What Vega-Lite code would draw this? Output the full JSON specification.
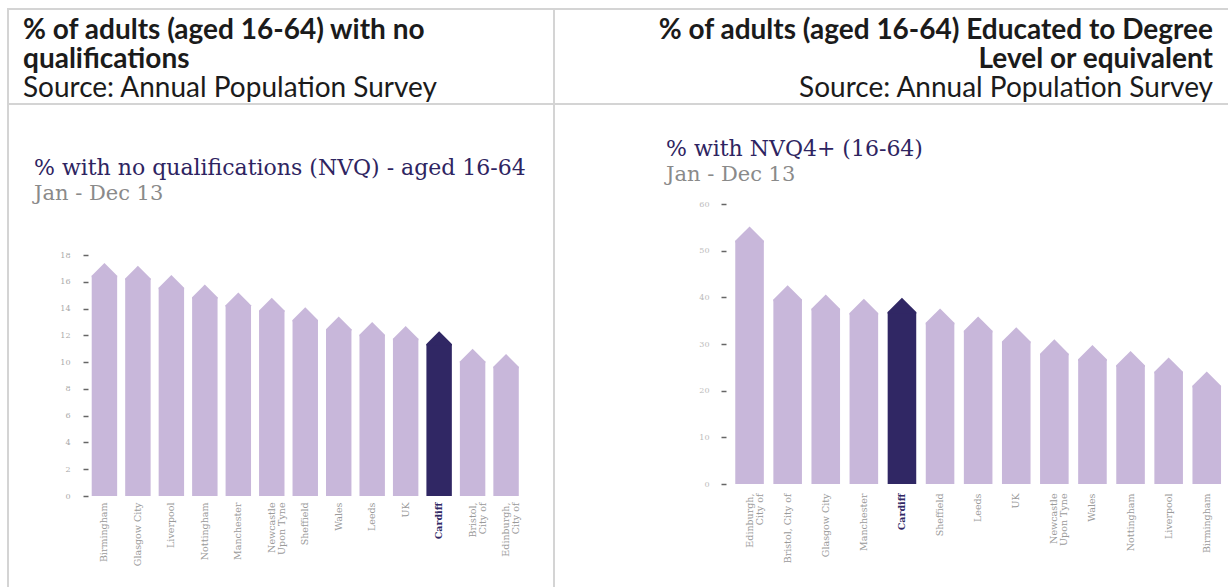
{
  "$schema": "https://vega.github.io/schema/vega-lite/v6.json",
  "padding": {"left": 7, "top": 8, "right": 0, "bottom": 0},
  "background": "white",
  "spacing": 0,
  "bounds": "flush",
  "columns": 2,
  "config": {
    "view": {"stroke": "#d4d4d4", "strokeWidth": 2},
    "axis": {"grid": false, "title": null},
    "font": "DejaVu Serif"
  },
  "datasets": {
    "noqual": [
      {"area": "Birmingham", "value": 17.4},
      {"area": "Glasgow City", "value": 17.2},
      {"area": "Liverpool", "value": 16.5},
      {"area": "Nottingham", "value": 15.8},
      {"area": "Manchester", "value": 15.2},
      {"area": "Newcastle Upon Tyne", "value": 14.8},
      {"area": "Sheffield", "value": 14.1},
      {"area": "Wales", "value": 13.4},
      {"area": "Leeds", "value": 13.0},
      {"area": "UK", "value": 12.7},
      {"area": "Cardiff", "value": 12.3},
      {"area": "Bristol, City of", "value": 11.0},
      {"area": "Edinburgh, City of", "value": 10.6}
    ],
    "nvq4": [
      {"area": "Edinburgh, City of", "value": 55.2},
      {"area": "Bristol, City of", "value": 42.6},
      {"area": "Glasgow City", "value": 40.6},
      {"area": "Manchester", "value": 39.7},
      {"area": "Cardiff", "value": 39.9},
      {"area": "Sheffield", "value": 37.6},
      {"area": "Leeds", "value": 35.9},
      {"area": "UK", "value": 33.6},
      {"area": "Newcastle Upon Tyne", "value": 31.0},
      {"area": "Wales", "value": 29.8},
      {"area": "Nottingham", "value": 28.5},
      {"area": "Liverpool", "value": 27.1},
      {"area": "Birmingham", "value": 24.1}
    ]
  },
  "concat": [
    {
      "width": 546,
      "height": 95,
      "view": {"stroke": "#d4d4d4", "strokeWidth": 2, "fill": "white"},
      "data": {"values": [{"t": ""}]},
      "mark": {"type": "text"},
      "encoding": {"text": {"field": "t"}},
      "title": {
        "text": ["% of adults (aged 16-64) with no", "qualifications"],
        "subtitle": "Source: Annual Population Survey",
        "frame": "group",
        "anchor": "start",
        "dx": 15,
        "offset": -94,
        "font": "Lato",
        "fontSize": 28,
        "fontWeight": "bold",
        "color": "#1b1b1b",
        "lineHeight": 29,
        "subtitleFont": "Lato",
        "subtitleFontSize": 28,
        "subtitleFontWeight": "normal",
        "subtitleColor": "#1b1b1b",
        "subtitleLineHeight": 29,
        "subtitlePadding": 1
      }
    },
    {
      "width": 675,
      "height": 95,
      "view": {"stroke": "#d4d4d4", "strokeWidth": 2, "fill": "white"},
      "data": {"values": [{"t": ""}]},
      "mark": {"type": "text"},
      "encoding": {"text": {"field": "t"}},
      "title": {
        "text": ["% of adults (aged 16-64) Educated to Degree", "Level or equivalent"],
        "subtitle": "Source: Annual Population Survey",
        "frame": "group",
        "anchor": "end",
        "dx": -16,
        "offset": -94,
        "font": "Lato",
        "fontSize": 28,
        "fontWeight": "bold",
        "color": "#1b1b1b",
        "lineHeight": 29,
        "subtitleFont": "Lato",
        "subtitleFontSize": 28,
        "subtitleFontWeight": "normal",
        "subtitleColor": "#1b1b1b",
        "subtitleLineHeight": 29,
        "subtitlePadding": 1
      }
    },
    {
      "width": 546,
      "height": 484,
      "data": {"name": "noqual"},
      "title": {
        "text": "% with no qualifications (NVQ) - aged 16-64",
        "subtitle": "Jan - Dec 13",
        "frame": "group",
        "anchor": "start",
        "dx": 26,
        "offset": -101,
        "font": "DejaVu Serif",
        "fontSize": 22,
        "fontWeight": "normal",
        "color": "#2e2461",
        "subtitleFont": "DejaVu Serif",
        "subtitleFontSize": 21,
        "subtitleColor": "#8a8a8a",
        "subtitlePadding": 3
      },
      "encoding": {
        "x": {
          "field": "area",
          "type": "nominal",
          "sort": null,
          "scale": {"range": [79.7, 514.8], "paddingInner": 0.24, "paddingOuter": 0.12},
          "axis": {
            "orient": "bottom",
            "offset": -92,
            "labelAngle": -90,
            "domain": false,
            "ticks": false,
            "tickSize": 0,
            "labelPadding": 6,
            "labelLimit": 300,
            "labelFont": "DejaVu Serif",
            "labelFontSize": 9.5,
            "labelLineHeight": 10,
            "labelOverlap": false,
            "labelColor": {"condition": {"test": "datum.value === 'Cardiff'", "value": "#302764"}, "value": "#9a9a9a"},
            "labelFontWeight": {"condition": {"test": "datum.value === 'Cardiff'", "value": "bold"}, "value": "normal"},
            "labelExpr": "datum.label == 'Newcastle Upon Tyne' ? ['Newcastle', 'Upon Tyne'] : datum.label == 'Bristol, City of' ? ['Bristol,', 'City of'] : datum.label == 'Edinburgh, City of' ? ['Edinburgh,', 'City of'] : datum.label"
          }
        },
        "y": {
          "field": "value",
          "type": "quantitative",
          "stack": null,
          "scale": {"domain": [0, 18], "range": [392, 151], "nice": false},
          "axis": {
            "orient": "left",
            "offset": -80,
            "values": [0, 2, 4, 6, 8, 10, 12, 14, 16, 18],
            "domain": false,
            "ticks": true,
            "tickSize": 5,
            "tickColor": "#666666",
            "tickWidth": 1.5,
            "labelPadding": 13,
            "labelFont": "DejaVu Serif",
            "labelFontSize": 8,
            "labelColor": "#aaaaaa"
          }
        },
        "color": {"condition": {"test": "datum.area === 'Cardiff'", "value": "#302764"}, "value": "#c8b7da"}
      },
      "layer": [
        {"mark": {"type": "bar", "yOffset": 12.7, "y2Offset": 0}, "encoding": {"y2": {"datum": 0}}},
        {"mark": {"type": "point", "shape": "M-1,1.12L-1,1L0,0L1,1L1,1.12Z", "size": 647, "filled": true, "opacity": 1, "strokeWidth": 0}}
      ]
    },
    {
      "width": 675,
      "height": 484,
      "data": {"name": "nvq4"},
      "title": {
        "text": "% with NVQ4+  (16-64)",
        "subtitle": "Jan - Dec 13",
        "frame": "group",
        "anchor": "start",
        "dx": 112,
        "offset": -82,
        "font": "DejaVu Serif",
        "fontSize": 22,
        "fontWeight": "normal",
        "color": "#2e2461",
        "subtitleFont": "DejaVu Serif",
        "subtitleFontSize": 21,
        "subtitleColor": "#8a8a8a",
        "subtitlePadding": 3
      },
      "encoding": {
        "x": {
          "field": "area",
          "type": "nominal",
          "sort": null,
          "scale": {"range": [176.5, 671.8], "paddingInner": 0.25, "paddingOuter": 0.125},
          "axis": {
            "orient": "bottom",
            "offset": -104,
            "labelAngle": -90,
            "domain": false,
            "ticks": false,
            "tickSize": 0,
            "labelPadding": 9,
            "labelLimit": 300,
            "labelFont": "DejaVu Serif",
            "labelFontSize": 9.5,
            "labelLineHeight": 10,
            "labelOverlap": false,
            "labelColor": {"condition": {"test": "datum.value === 'Cardiff'", "value": "#302764"}, "value": "#9a9a9a"},
            "labelFontWeight": {"condition": {"test": "datum.value === 'Cardiff'", "value": "bold"}, "value": "normal"},
            "labelExpr": "datum.label == 'Newcastle Upon Tyne' ? ['Newcastle', 'Upon Tyne'] : datum.label == 'Edinburgh, City of' ? ['Edinburgh,', 'City of'] : datum.label"
          }
        },
        "y": {
          "field": "value",
          "type": "quantitative",
          "stack": null,
          "scale": {"domain": [0, 60], "range": [380, 100], "nice": false},
          "axis": {
            "orient": "left",
            "offset": -172,
            "values": [0, 10, 20, 30, 40, 50, 60],
            "domain": false,
            "ticks": true,
            "tickSize": 5,
            "tickColor": "#666666",
            "tickWidth": 1.5,
            "labelPadding": 12,
            "labelFont": "DejaVu Serif",
            "labelFontSize": 8,
            "labelColor": "#bbbbbb"
          }
        },
        "color": {"condition": {"test": "datum.area === 'Cardiff'", "value": "#302764"}, "value": "#c8b7da"}
      },
      "layer": [
        {"mark": {"type": "bar", "yOffset": 14.3, "y2Offset": 0}, "encoding": {"y2": {"datum": 0}}},
        {"mark": {"type": "point", "shape": "M-1,1.12L-1,1L0,0L1,1L1,1.12Z", "size": 817, "filled": true, "opacity": 1, "strokeWidth": 0}}
      ]
    }
  ]
}
